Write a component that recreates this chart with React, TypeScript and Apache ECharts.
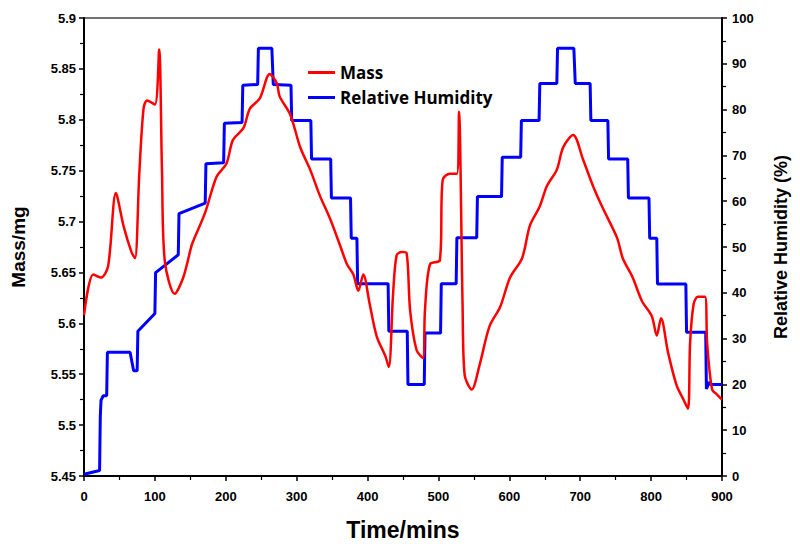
import React, { useEffect, useRef } from "react";
import * as echarts from "echarts";

const massTime = [0, 13, 24, 34, 45, 56, 67, 72, 78, 84, 89, 100, 106, 110, 114, 128, 140, 152, 156, 171, 187, 201, 210, 225, 234, 248, 262, 272, 276, 291, 305, 319, 333, 347, 361, 371, 380, 387, 394, 403, 413, 425, 430, 436, 441, 448, 455, 460, 469, 478, 481, 488, 502, 506, 516, 526, 529, 534, 537, 547, 558, 572, 587, 601, 618, 629, 643, 653, 667, 676, 690, 704, 718, 732, 752, 760, 774, 787, 801, 808, 814, 824, 836, 845, 852, 855, 860, 866, 876, 879, 886, 893, 900];
const massValue = [5.608, 5.648, 5.645, 5.656, 5.728, 5.695, 5.670, 5.664, 5.747, 5.811, 5.819, 5.815, 5.869, 5.75, 5.661, 5.629, 5.645, 5.677, 5.684, 5.709, 5.744, 5.757, 5.780, 5.792, 5.811, 5.821, 5.845, 5.836, 5.823, 5.805, 5.773, 5.751, 5.725, 5.703, 5.677, 5.658, 5.648, 5.632, 5.648, 5.619, 5.587, 5.568, 5.557, 5.629, 5.667, 5.670, 5.669, 5.613, 5.574, 5.566, 5.613, 5.658, 5.662, 5.741, 5.747, 5.747, 5.808, 5.62, 5.549, 5.535, 5.559, 5.597, 5.616, 5.645, 5.664, 5.696, 5.715, 5.735, 5.751, 5.773, 5.785, 5.761, 5.735, 5.713, 5.684, 5.664, 5.645, 5.622, 5.607, 5.588, 5.605, 5.571, 5.539, 5.526, 5.516, 5.581, 5.619, 5.626, 5.626, 5.581, 5.535, 5.530, 5.525];

const rhTime = [0, 22, 23, 24, 27, 32, 33, 65, 70, 75, 76, 100, 101, 133, 134, 171, 172, 197, 198, 223, 224, 245, 246, 265, 267, 292, 293, 320, 321, 348, 349, 376, 377, 385, 386, 429, 430, 456, 457, 480, 481, 503, 504, 525, 526, 554, 555, 589, 590, 616, 617, 642, 643, 667, 668, 691, 693, 714, 715, 739, 740, 767, 768, 797, 798, 808, 809, 849, 850, 877, 878, 882, 884, 900];
const rhValue = [0.4, 1.2, 13, 16.5, 17.5, 17.5, 27, 27, 23, 23, 31.6, 35.5, 44.4, 48.3, 57.3, 59.6, 68.2, 68.4, 77, 77.2, 85.3, 85.5, 93.4, 93.4, 85.5, 85.3, 77.6, 77.6, 69.2, 69.2, 60.7, 60.7, 51.9, 51.9, 42, 42, 31.6, 31.6, 20, 20, 31.2, 31.2, 42, 42, 52, 52, 61, 61, 69.6, 69.6, 77.6, 77.6, 85.7, 85.7, 93.4, 93.4, 85.7, 85.7, 77.6, 77.6, 69.2, 69.2, 60.7, 60.7, 51.9, 51.9, 41.9, 41.9, 31.4, 31.4, 19, 20.5, 20, 20];

const xTicks = [0, 100, 200, 300, 400, 500, 600, 700, 800, 900];

const FONT = "'Liberation Sans', Arial, sans-serif";
const FONT2 = "'Open Sans', 'Liberation Sans', Arial, sans-serif";

export default function App() {
  const ref = useRef<HTMLDivElement>(null);
  useEffect(() => {
    if (!ref.current) return;
    const chart = echarts.init(ref.current, null, { renderer: "svg", width: 800, height: 546 });
    const massData = massTime.map((t, i) => [t, massValue[i]]);
    const rhData = rhTime.map((t, i) => [t, rhValue[i]]);
    const axisLabelStyle = { color: "#000", fontWeight: "bold" as const, fontSize: 13, fontFamily: FONT };
    chart.setOption({
      animation: false,
      backgroundColor: "#fff",
      grid: { left: 84, width: 638, top: 18, height: 468, show: true, borderColor: "#444", borderWidth: 1.5, backgroundColor: "transparent" },
      legend: {
        orient: "vertical",
        left: 303,
        top: 59,
        itemWidth: 27,
        itemHeight: 3,
        itemGap: 8,
        icon: "rect",
        textStyle: { color: "#000", fontWeight: "bold", fontSize: 17, fontFamily: FONT2 },
        data: ["Mass", "Relative Humidity"],
      },
      xAxis: {
        type: "value",
        min: 0,
        max: 900,
        interval: 100,
        name: "Time/mins",
        nameLocation: "middle",
        nameGap: 42,
        nameTextStyle: { color: "#000", fontWeight: "bold", fontSize: 23, fontFamily: FONT },
        axisLine: { show: true, onZero: false, lineStyle: { color: "#000", width: 2 } },
        axisTick: { show: true, inside: false, length: 5, lineStyle: { color: "#000", width: 1.5 } },
        minorTick: { show: true, splitNumber: 2, length: 4, lineStyle: { color: "#000", width: 1.2 } },
        axisLabel: { ...axisLabelStyle, margin: 14, customValues: xTicks } as any,
        splitLine: { show: false },
      },
      yAxis: [
        {
          type: "value",
          min: 5.45,
          max: 5.9,
          interval: 0.05,
          name: "Mass/mg",
          nameLocation: "middle",
          nameGap: 56,
          nameTextStyle: { color: "#000", fontWeight: "bold", fontSize: 19, fontFamily: FONT },
          axisLine: { show: true, lineStyle: { color: "#000", width: 2 } },
          axisTick: { show: true, inside: false, length: 5, lineStyle: { color: "#000", width: 1.5 } },
          minorTick: { show: true, splitNumber: 2, length: 4, lineStyle: { color: "#000", width: 1.2 } },
          axisLabel: { ...axisLabelStyle, margin: 8, formatter: (v: number) => String(parseFloat(v.toFixed(2))) },
          splitLine: { show: false },
        },
        {
          type: "value",
          min: 0,
          max: 100,
          interval: 10,
          name: "Relative Humidity (%)",
          nameLocation: "middle",
          nameGap: 50,
          nameRotate: 90,
          nameTextStyle: { color: "#000", fontWeight: "bold", fontSize: 18, fontFamily: FONT },
          axisLine: { show: true, lineStyle: { color: "#000", width: 2 } },
          axisTick: { show: true, inside: false, length: 5, lineStyle: { color: "#000", width: 1.5 } },
          minorTick: { show: true, splitNumber: 2, length: 4, lineStyle: { color: "#000", width: 1.2 } },
          axisLabel: { ...axisLabelStyle, margin: 10 },
          splitLine: { show: false },
        },
      ],
      series: [
        {
          name: "Mass",
          type: "line",
          yAxisIndex: 0,
          data: massData,
          smooth: 0.3,
          showSymbol: false,
          symbol: "none",
          lineStyle: { color: "#ff0000", width: 2.5 },
          itemStyle: { color: "#ff0000" },
          z: 3,
        },
        {
          name: "Relative Humidity",
          type: "line",
          yAxisIndex: 1,
          data: rhData,
          showSymbol: false,
          symbol: "none",
          lineStyle: { color: "#0000ff", width: 3 },
          itemStyle: { color: "#0000ff" },
          z: 2,
        },
      ],
    });
    return () => chart.dispose();
  }, []);
  return <div ref={ref} style={{ position: "fixed", left: 0, top: 0, width: 800, height: 546 }} />;
}
